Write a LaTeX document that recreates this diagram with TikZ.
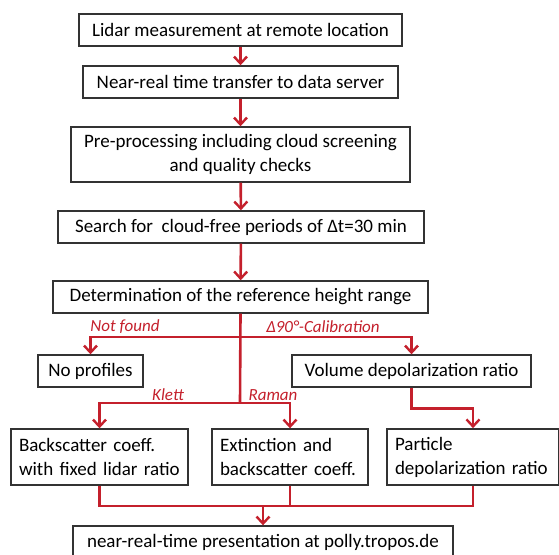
\documentclass[tikz,border=0pt]{standalone}
\usepackage{fontspec}
\setmainfont{Carlito}
\usepackage{tikz}
\usetikzlibrary{arrows.meta,positioning,calc}
\definecolor{flowRed}{RGB}{196,32,44}
\definecolor{boxLine}{gray}{0.2}
\tikzset{
  box/.style={rectangle, draw=boxLine, line width=1.4pt, align=center, inner sep=6pt, font=\fontsize{19}{24}\selectfont},
  lbox/.style={box, align=left, inner sep=8pt},
  redline/.style={line width=2.6pt, draw=flowRed},
  redarrow/.style={-{Straight Barb[length=7pt,width=13pt,line width=2.4pt]}, line width=2.6pt, draw=flowRed},
  branchlabel/.style={text=flowRed, font=\fontsize{17}{20}\selectfont\itshape, inner sep=1pt}
}
\begin{document}
\begin{tikzpicture}[x=1pt,y=-1pt]
  \useasboundingbox (0,0) rectangle (559,554);
  % main chain
  \node[box, minimum width=323pt, minimum height=32pt] (lidar) at (240.5,30) {Lidar measurement at remote location};
  \node[box, minimum width=315pt, minimum height=32pt] (transfer) at (240.5,82) {Near-real time transfer to data server};
  \node[box, minimum width=339pt, minimum height=55pt] (prepro) at (240.5,154.5) {Pre-processing including cloud screening\\and quality checks};
  \node[box, minimum width=366pt, minimum height=32pt] (search) at (241,227) {Search for\ \ cloud-free periods of Δt=30 min};
  \node[box, minimum width=375pt, minimum height=32pt] (refheight) at (240.5,297) {Determination of the reference height range};
  % branches
  \node[box, minimum width=105pt, minimum height=32pt] (noprof) at (90.5,371) {No profiles};
  \node[box, minimum width=239pt, minimum height=32pt] (voldep) at (411.5,371) {Volume depolarization ratio};
  \node[lbox, text width=161pt, minimum height=56pt] (backsc) at (99.5,457) {Backscatter coeff.\\with fixed lidar ratio};
  \node[lbox, text width=140pt, minimum height=56pt] (extinct) at (290,457) {Extinction and\\backscatter coeff.};
  \node[lbox, text width=156pt, minimum height=56pt] (pardep) at (473,457) {Particle\\depolarization ratio};
  \node[box, minimum width=380pt, minimum height=32pt] (present) at (263,542) {near-real-time presentation at polly.tropos.de};
  \coordinate (fork) at (240,337);
  \coordinate (split) at (240,403);
  \coordinate (merge) at (263,506);
  % connectors
  \draw[redarrow] (lidar) -- (transfer);
  \draw[redarrow] (transfer) -- (prepro);
  \draw[redarrow] (prepro) -- (search);
  \draw[redarrow] (search) -- (refheight);
  \draw[redline] (refheight.south) -- (split);
  \draw[redarrow] (fork) -| (noprof.north);
  \draw[redarrow] (fork) -| (voldep.north);
  \draw[redarrow] (split) -| (backsc.north);
  \draw[redarrow] (split) -| (extinct.north);
  \draw[redarrow] (voldep.south) -- ++(0,21) -| (pardep.north);
  \draw[redline] (backsc.south) |- (merge);
  \draw[redline] (pardep.south) |- (merge);
  \draw[redline] (extinct.south) -- (extinct.south |- merge);
  \draw[redarrow] (merge) -- (present.north);
  % labels
  \node[branchlabel] (notfound) at (125,327) {Not found};
  \node[branchlabel] (calib) at (323,327) {Δ90°-Calibration};
  \node[branchlabel] (klett) at (168,395) {Klett};
  \node[branchlabel] (raman) at (273,395) {Raman};
\end{tikzpicture}
\end{document}
